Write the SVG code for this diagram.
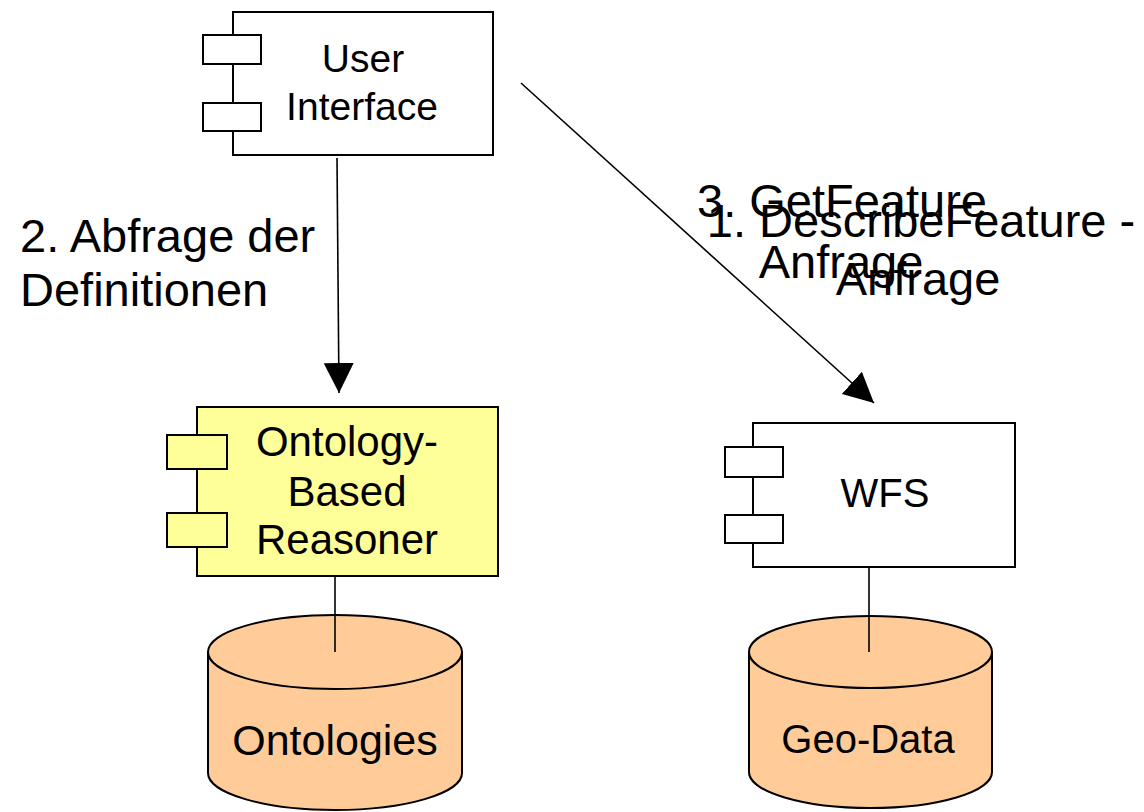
<svg xmlns="http://www.w3.org/2000/svg" width="1144" height="812" viewBox="0 0 1144 812">
  <style>
    .box { stroke: #000; stroke-width: 2; }
    .plain { fill: #fff; }
    .yellow { fill: #ffff99; }
    .db { fill: #ffcc99; stroke: #000; stroke-width: 2; }
    .t { font-family: "Liberation Sans", Arial, sans-serif; fill: #000; text-anchor: middle; }
    .lbl { font-family: "Liberation Sans", Arial, sans-serif; fill: #000; font-size: 47px; }
    .edge { stroke: #000; stroke-width: 1.6; fill: none; }
    .stem { stroke: #000; stroke-width: 1.6; }
  </style>
  <defs>
    <marker id="head" viewBox="0 0 30 30" refX="30" refY="15" markerWidth="30" markerHeight="30" markerUnits="userSpaceOnUse" orient="auto">
      <path d="M0,0 L30,15 L0,30 z" fill="#000"/>
    </marker>
  </defs>

  <rect width="1144" height="812" fill="#fff"/>

  <!-- User Interface component -->
  <g id="user-interface">
    <rect class="box plain" x="233" y="12" width="260" height="143"/>
    <rect class="box plain" x="203" y="35" width="58" height="29"/>
    <rect class="box plain" x="203" y="103" width="58" height="28"/>
    <text class="t" x="363" y="72" font-size="39">User</text>
    <text class="t" x="362" y="120" font-size="39">Interface</text>
  </g>

  <!-- Reasoner component -->
  <g id="reasoner">
    <rect class="box yellow" x="197" y="407" width="301" height="169"/>
    <rect class="box yellow" x="167" y="435" width="60" height="34"/>
    <rect class="box yellow" x="167" y="513" width="60" height="34"/>
    <text class="t" x="347" y="456" font-size="42">Ontology-</text>
    <text class="t" x="347" y="506" font-size="42">Based</text>
    <text class="t" x="347" y="554" font-size="42">Reasoner</text>
  </g>

  <!-- WFS component -->
  <g id="wfs">
    <rect class="box plain" x="753" y="423" width="262" height="144"/>
    <rect class="box plain" x="725" y="447" width="58" height="30"/>
    <rect class="box plain" x="725" y="515" width="58" height="28"/>
    <text class="t" x="885" y="507" font-size="40">WFS</text>
  </g>

  <!-- Ontologies store -->
  <g id="ontologies">
    <path class="db" d="M208,652 L208,773 A127,37 0 0 0 462,773 L462,652 Z"/>
    <ellipse class="db" cx="335" cy="652" rx="127" ry="37"/>
    <text class="t" x="335" y="755" font-size="43">Ontologies</text>
  </g>

  <!-- Geo-Data store -->
  <g id="geo-data">
    <path class="db" d="M749,652 L749,772 A121.5,36 0 0 0 992,772 L992,652 Z"/>
    <ellipse class="db" cx="870.5" cy="652" rx="121.5" ry="36"/>
    <text class="t" x="868" y="753" font-size="40">Geo-Data</text>
  </g>

  <!-- Connectors -->
  <g id="connectors">
    <line class="edge" x1="337" y1="158" x2="339" y2="393" marker-end="url(#head)"/>
    <line class="edge" x1="521" y1="83" x2="874" y2="403" marker-end="url(#head)"/>
    <line class="stem" x1="335" y1="576" x2="335" y2="652"/>
    <line class="stem" x1="869" y1="567" x2="869" y2="652"/>
  </g>

  <!-- Connector labels -->
  <g id="labels">
    <text class="lbl" x="20" y="252" font-size="48">2. Abfrage der</text>
    <text class="lbl" x="20" y="306" font-size="48">Definitionen</text>
    <text class="lbl" x="842" y="217" text-anchor="middle">3. GetFeature</text>
    <text class="lbl" x="841" y="278" text-anchor="middle">Anfrage</text>
    <text class="lbl" x="921" y="237" text-anchor="middle">1. DescribeFeature -</text>
    <text class="lbl" x="918" y="295" text-anchor="middle">Anfrage</text>
  </g>
</svg>
